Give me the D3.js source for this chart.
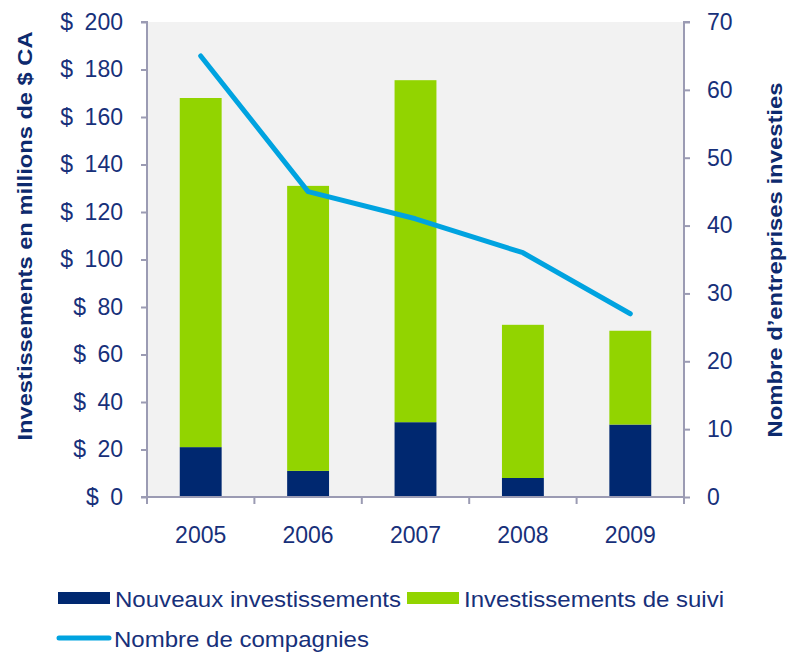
<!DOCTYPE html>
<html>
<head>
<meta charset="utf-8">
<script src="https://cdn.jsdelivr.net/npm/d3@7"></script>
<style>
  body { margin: 0; background: #fff; }
  svg { display: block; font-family: "Liberation Sans", Arial, sans-serif; }
  .tick-label { fill: #17307a; font-size: 23px; }
  .axis-title { fill: #0d2a6e; font-size: 20px; font-weight: bold; }
  .legend-label { fill: #17307a; font-size: 22px; }
</style>
</head>
<body>
<svg id="chart"></svg>
<script>
const years = ["2005", "2006", "2007", "2008", "2009"];
const nouveaux = [21, 11, 31.5, 8, 30.5];
const suivi = [147, 120, 144, 64.5, 39.5];
const compagnies = [65, 45, 41, 36, 27];
const leftTicks = [0, 20, 40, 60, 80, 100, 120, 140, 160, 180, 200];
const rightTicks = [0, 10, 20, 30, 40, 50, 60, 70];

const width = 788;
const height = 653;
const marginLeft = 147;
const marginRight = 104;
const marginTop = 22;
const marginBottom = 156;

const navy = "#002870";
const green = "#92d400";
const blue = "#00a3e0";
const axisColor = "#9b9bb3";

const svg = d3.select("#chart")
    .attr("width", width)
    .attr("height", height)
    .attr("viewBox", [0, 0, width, height]);

const x = d3.scaleBand(years, [marginLeft, width - marginRight]).paddingInner(0.61).paddingOuter(0.305);
const xOuter = d3.scaleBand(years, [marginLeft, width - marginRight]);
const yLeft = d3.scaleLinear([0, 200], [height - marginBottom, marginTop]);
const yRight = d3.scaleLinear([0, 70], [height - marginBottom, marginTop]);

// plot background
svg.append("rect")
    .attr("x", marginLeft)
    .attr("y", marginTop)
    .attr("width", width - marginRight - marginLeft)
    .attr("height", height - marginBottom - marginTop)
    .attr("fill", "#f2f2f2");

// stacked bars
const stackData = years.map((yr, i) => ({year: yr, nouveaux: nouveaux[i], suivi: suivi[i]}));
const series = d3.stack().keys(["nouveaux", "suivi"])(stackData);
const colors = {nouveaux: navy, suivi: green};

svg.selectAll(".serie")
    .data(series)
    .join("g")
    .attr("class", "serie")
    .attr("fill", d => colors[d.key])
    .selectAll("rect")
    .data(d => d)
    .join("rect")
    .attr("x", d => x(d.data.year))
    .attr("width", x.bandwidth())
    .attr("y", d => yLeft(d[1]))
    .attr("height", d => yLeft(d[0]) - yLeft(d[1]));

// line
const line = d3.line()
    .x((d, i) => xOuter(years[i]) + xOuter.bandwidth() / 2)
    .y(d => yRight(d));

svg.append("path")
    .datum(compagnies)
    .attr("fill", "none")
    .attr("stroke", blue)
    .attr("stroke-width", 5)
    .attr("stroke-linecap", "round")
    .attr("stroke-linejoin", "round")
    .attr("d", line);

// left axis
const leftAxis = svg.append("g")
    .attr("transform", `translate(${marginLeft},0)`)
    .call(d3.axisLeft(yLeft).tickValues(leftTicks).tickSize(6).tickPadding(18)
        .tickFormat(d => "$\u2002" + d));
leftAxis.select(".domain").attr("stroke", axisColor).attr("stroke-width", 2)
    .attr("d", `M-6,${marginTop}H0V${height - marginBottom}`);
leftAxis.selectAll(".tick line").attr("stroke", axisColor).attr("stroke-width", 2);
leftAxis.selectAll(".tick text").attr("class", "tick-label").attr("font-size", null).attr("font-family", null).attr("fill", null);

// right axis
const rightAxis = svg.append("g")
    .attr("transform", `translate(${width - marginRight},0)`)
    .call(d3.axisRight(yRight).tickValues(rightTicks).tickSize(6).tickPadding(17));
rightAxis.select(".domain").attr("stroke", axisColor).attr("stroke-width", 2)
    .attr("d", `M6,${marginTop}H0V${height - marginBottom}`);
rightAxis.selectAll(".tick line").attr("stroke", axisColor).attr("stroke-width", 2);
rightAxis.selectAll(".tick text").attr("class", "tick-label").attr("font-size", null).attr("font-family", null).attr("fill", null);

// bottom axis: ticks between categories
const bottom = svg.append("g")
    .attr("transform", `translate(0,${height - marginBottom})`);
bottom.append("line")
    .attr("x1", marginLeft - 6).attr("x2", width - marginRight)
    .attr("stroke", axisColor).attr("stroke-width", 2);
const boundaries = years.map(yr => xOuter(yr)).concat([width - marginRight]);
bottom.selectAll(".sep")
    .data(boundaries)
    .join("line")
    .attr("class", "sep")
    .attr("x1", d => d).attr("x2", d => d)
    .attr("y1", 0).attr("y2", 7)
    .attr("stroke", axisColor).attr("stroke-width", 2);
bottom.selectAll(".year")
    .data(years)
    .join("text")
    .attr("class", "tick-label year")
    .attr("text-anchor", "middle")
    .attr("x", d => xOuter(d) + xOuter.bandwidth() / 2)
    .attr("y", 46)
    .text(d => d);

// axis titles
svg.append("text")
    .attr("class", "axis-title")
    .attr("text-anchor", "middle")
    .attr("transform", `translate(32,236) rotate(-90)`)
    .attr("textLength", 409)
    .attr("lengthAdjust", "spacingAndGlyphs")
    .text("Investissements en millions de $ CA");

svg.append("text")
    .attr("class", "axis-title")
    .attr("text-anchor", "middle")
    .attr("transform", `translate(782,260) rotate(-90)`)
    .attr("textLength", 355)
    .attr("lengthAdjust", "spacingAndGlyphs")
    .text("Nombre d\u2019entreprises investies");

// legend
const legend = svg.append("g");
const legendItems = [
    {label: "Nouveaux investissements", color: navy, type: "rect", x: 58, y: 598, len: 286},
    {label: "Investissements de suivi", color: green, type: "rect", x: 407, y: 598, len: 260},
    {label: "Nombre de compagnies", color: blue, type: "line", x: 57, y: 638, len: 255}
];
legendItems.forEach(d => {
    if (d.type === "rect") {
        legend.append("rect")
            .attr("x", d.x).attr("y", d.y - 6)
            .attr("width", 52).attr("height", 12)
            .attr("fill", d.color);
    } else {
        legend.append("line")
            .attr("x1", d.x + 2).attr("x2", d.x + 52)
            .attr("y1", d.y).attr("y2", d.y)
            .attr("stroke", d.color).attr("stroke-width", 5)
            .attr("stroke-linecap", "round");
    }
    legend.append("text")
        .attr("class", "legend-label")
        .attr("x", d.x + 57)
        .attr("y", d.y + 9)
        .attr("textLength", d.len)
        .attr("lengthAdjust", "spacingAndGlyphs")
        .text(d.label);
});
</script>
</body>
</html>
